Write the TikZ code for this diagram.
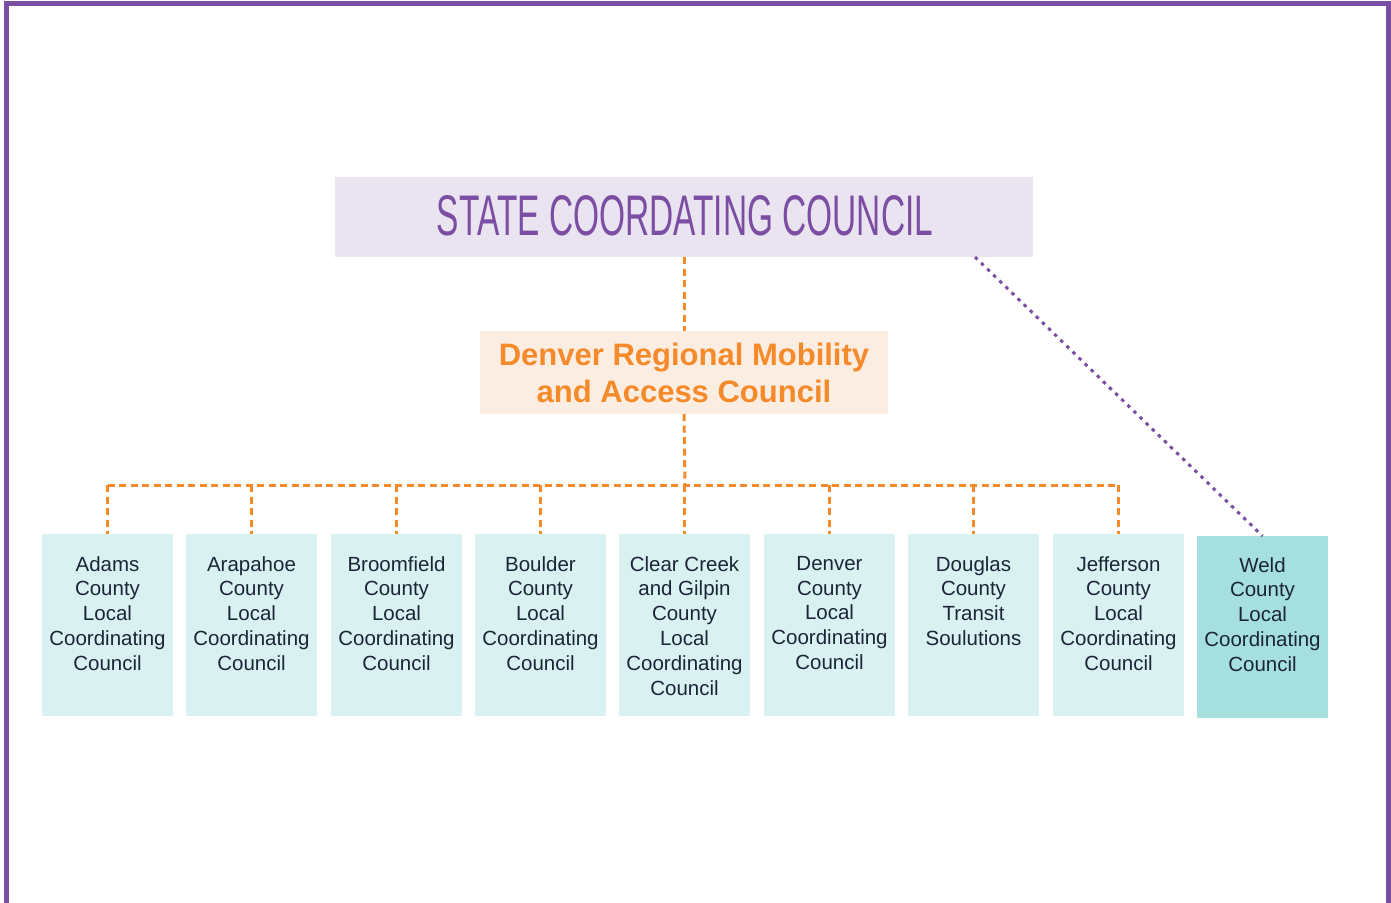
\documentclass[tikz,border=0pt]{standalone}
\usepackage{fontspec}
\setmainfont{Liberation Sans}
\usepackage{graphicx}
\definecolor{purp}{HTML}{7B4EA3}
\definecolor{lav}{HTML}{EAE3F0}
\definecolor{peach}{HTML}{FCEDE3}
\definecolor{orng}{HTML}{F58A2B}
\definecolor{teal1}{HTML}{D9F2F1}
\definecolor{teal2}{HTML}{A5E0DF}
\definecolor{navy}{HTML}{1B2537}
\tikzset{
  cbox/.style={rectangle, fill=teal1, draw=none, minimum width=131pt, minimum height=182pt, inner sep=0pt, anchor=north},
  ctext/.style={anchor=north, inner sep=0pt, align=center, text=navy, font=\fontsize{20.5}{24.8}\selectfont},
  orline/.style={draw=orng, line width=3pt, dash pattern=on 7pt off 4.5pt},
  puline/.style={draw=purp, line width=3pt, dash pattern=on 3.5pt off 5pt},
}
\begin{document}
\begin{tikzpicture}[x=1pt,y=-1pt]
\useasboundingbox (0,0) rectangle (1391,902);
% frame
\draw[purp, line width=5pt] (6,905) -- (6,3.5) -- (1388.5,3.5) -- (1388.5,905);
% state council
\node[rectangle, fill=lav, minimum width=698pt, minimum height=80pt, inner sep=0pt] (state) at (684,217) {};
\node[inner sep=0pt, text=purp] (statetxt) at (685,216) {\resizebox{496pt}{40pt}{STATE COORDATING COUNCIL}};
% denver regional
\node[rectangle, fill=peach, minimum width=408pt, minimum height=83pt, inner sep=0pt] (drmac) at (684,372.5) {};
\node[inner sep=0pt, align=center, text=orng, font=\bfseries\fontsize{31}{37}\selectfont] (drmactxt) at (684,373) {Denver Regional Mobility\\and Access Council};
% county boxes
\node[cbox] (adams) at (107.5,534) {};
\node[cbox] (arap) at (251.5,534) {};
\node[cbox] (broom) at (396.5,534) {};
\node[cbox] (bould) at (540.5,534) {};
\node[cbox] (clear) at (684.5,534) {};
\node[cbox] (denv) at (829.5,534) {};
\node[cbox] (doug) at (973.5,534) {};
\node[cbox] (jeff) at (1118.5,534) {};
\node[cbox, fill=teal2] (weld) at (1262.5,536) {};
\node[ctext] (t1) at (107.5,556) {Adams\\County\\Local\\Coordinating\\Council};
\node[ctext] (t2) at (251.5,556) {Arapahoe\\County\\Local\\Coordinating\\Council};
\node[ctext] (t3) at (396.5,556) {Broomfield\\County\\Local\\Coordinating\\Council};
\node[ctext] (t4) at (540.5,556) {Boulder\\County\\Local\\Coordinating\\Council};
\node[ctext] (t5) at (684.5,556) {Clear Creek\\and Gilpin\\County\\Local\\Coordinating\\Council};
\node[ctext] (t6) at (829.5,556) {Denver\\County\\Local\\Coordinating\\Council};
\node[ctext] (t7) at (973.5,556) {Douglas\\County\\Transit\\Soulutions};
\node[ctext] (t8) at (1118.5,556) {Jefferson\\County\\Local\\Coordinating\\Council};
\node[ctext] (t9) at (1262.5,557) {Weld\\County\\Local\\Coordinating\\Council};
% connectors
\coordinate (bus) at (685,485);
\coordinate (stfoot) at (975,257);
\draw[orline] (state.south) -- (drmac.north);
\draw[orline] (drmac.south) -- (bus);
\draw[orline] (adams.north |- bus) -- (jeff.north |- bus);
\foreach \n in {adams,arap,broom,bould,clear,denv,doug,jeff}
  \draw[orline] (\n.north |- bus) -- (\n.north);
\draw[puline] (stfoot) -- (weld.north);
\end{tikzpicture}
\end{document}
